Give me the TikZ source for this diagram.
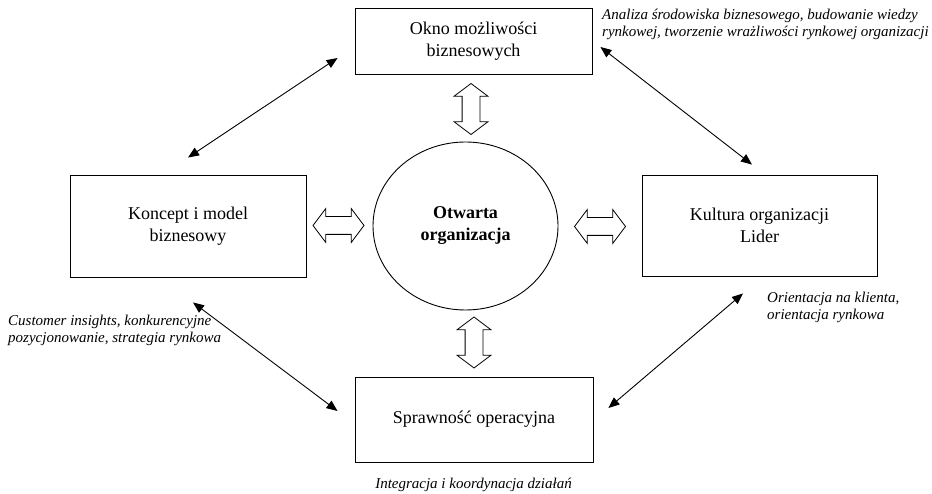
\documentclass[tikz,border=0pt]{standalone}
\usepackage{fontspec}
\setmainfont{Liberation Serif}
\usetikzlibrary{calc}
\usetikzlibrary{positioning, arrows.meta, shapes.geometric, shapes.arrows}
\tikzset{
    blok/.style={rectangle, draw=black, line width=0.9pt, inner sep=2pt, align=center, font=\fontsize{18}{22}\selectfont},
    opis/.style={inner sep=0pt, align=left, font=\fontsize{15}{17.5}\selectfont\itshape},
    line/.style={{Triangle[length=11pt,width=9pt]}-{Triangle[length=11pt,width=9pt]}, line width=0.9pt, black},
    dwustronna/.style={double arrow, draw=black, line width=0.8pt, fill=white, inner xsep=0pt, inner ysep=8.5pt,
        double arrow head extend=8pt, double arrow tip angle=106, minimum height=51pt}
}

\begin{document}
\begin{tikzpicture}[x=1pt, y=1pt]
		\useasboundingbox (0,0) rectangle (932,493);
		
		% Otwarta organizacja w srodku
		\node (otwarta) [ellipse, draw=black, line width=0.9pt, minimum width=185pt, minimum height=168pt, inner sep=0pt,
			align=center, font=\fontsize{18}{22}\selectfont\bfseries] at (465.5,267) {Otwarta\\organizacja};
		
		% Cztery bloki
		\node (okno) [blok, minimum width=237pt, minimum height=66pt] at (473.5,452) {Okno możliwości\\biznesowych};
		\node (koncept) [blok, minimum width=236pt, minimum height=102pt] at (188,267) {Koncept i model\\biznesowy};
		\node (kultura) [blok, minimum width=235pt, minimum height=101pt] at (759.5,267.5) {Kultura organizacji\\Lider};
		\node (sprawnosc) [blok, minimum width=238pt, minimum height=85pt] at (474,73.5) {Sprawność operacyjna};
		
		% Strzalki dwustronne
		\node (strzalkaG) [dwustronna, rotate=90] at (471,384) {};
		\node (strzalkaD) [dwustronna, rotate=90] at (474,150.5) {};
		\node (strzalkaL) [dwustronna] at (338.5,267.5) {};
		\node (strzalkaP) [dwustronna] at (600,266.5) {};
		
		% Konce strzalek ukosnych
		\coordinate (kN) at ($(koncept.north)+(0,17)$);
		\coordinate (oW) at ($(okno.west)+(-17,-17)$);
		\coordinate (oE) at ($(okno.east)+(8,-6)$);
		\coordinate (kuN) at ($(kultura.north)+(-7.5,10)$);
		\coordinate (kuS) at ($(kultura.south)+(-16.5,-17)$);
		\coordinate (sE) at ($(sprawnosc.east)+(15,11.5)$);
		\coordinate (kS) at ($(koncept.south)+(5,-25)$);
		\coordinate (sW) at ($(sprawnosc.west)+(-17,8.5)$);
		
		\draw [line] (kN) -- (oW);
		\draw [line] (oE) -- (kuN);
		\draw [line] (kuS) -- (sE);
		\draw [line] (kS) -- (sW);
		
		% Opisy (base = linia bazowa ostatniego wiersza)
		\node (opisOkno) [opis, anchor=base west] at (602,456) {Analiza środowiska biznesowego, budowanie wiedzy\\rynkowej, tworzenie wrażliwości rynkowej organizacji};
		\node (opisKoncept) [opis, anchor=base west] at (8,150) {Customer insights, konkurencyjne\\pozycjonowanie, strategia rynkowa};
		\node (opisKultura) [opis, anchor=base west] at (767,173) {Orientacja na klienta,\\orientacja rynkowa};
		\node (opisSprawnosc) [opis, anchor=base, align=center] at (473.5,5) {Integracja i koordynacja działań};
		
	\end{tikzpicture}
\end{document}
